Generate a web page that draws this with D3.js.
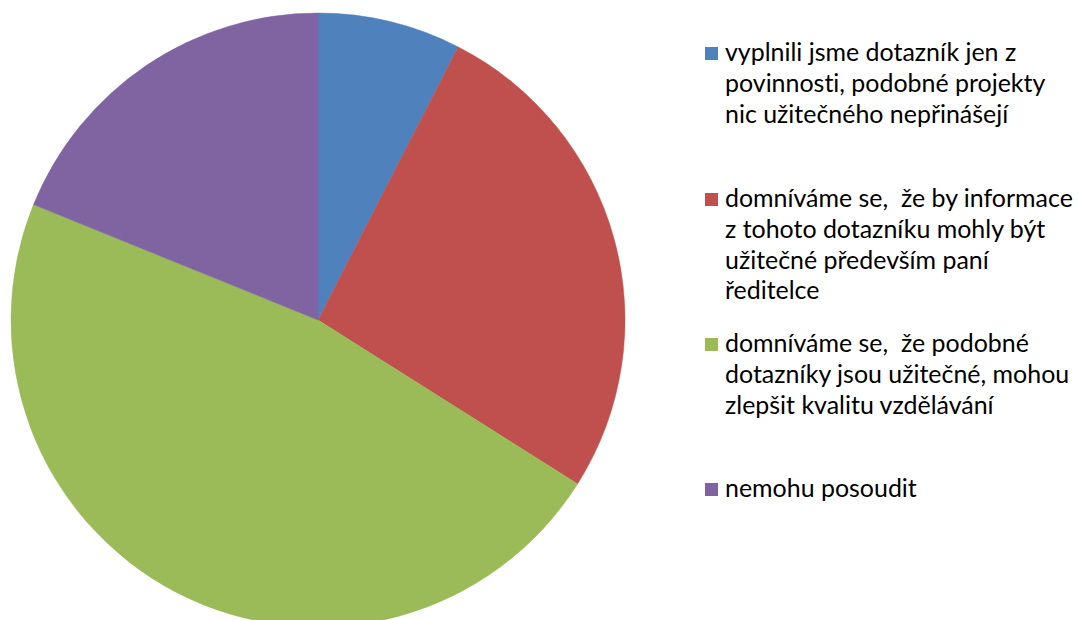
<!DOCTYPE html>
<html>
<head>
<meta charset="utf-8">
<script src="https://cdn.jsdelivr.net/npm/d3@7"></script>
<style>
  html, body { margin: 0; padding: 0; background: #fff; }
  svg { display: block; }
  text { white-space: pre; font-variant-ligatures: none; font-feature-settings: "liga" 0, "clig" 0; }
</style>
</head>
<body>
<svg id="chart" width="1078" height="620"></svg>
<script>
// ---- data ----
const categories = [
  "vyplnili jsme dotazník jen z povinnosti, podobné projekty nic užitečného nepřinášejí",
  "domníváme se,  že by informace z tohoto dotazníku mohly být užitečné především paní ředitelce",
  "domníváme se,  že podobné dotazníky jsou užitečné, mohou zlepšit kvalitu vzdělávání",
  "nemohu posoudit"
];
const values = [4, 14, 25, 10];
const legendLines = [
  ["vyplnili jsme dotazník jen z", "povinnosti, podobné projekty", "nic užitečného nepřinášejí"],
  ["domníváme se,  že by informace", "z tohoto dotazníku mohly být", "užitečné především paní", "ředitelce"],
  ["domníváme se,  že podobné", "dotazníky jsou užitečné, mohou", "zlepšit kvalitu vzdělávání"],
  ["nemohu posoudit"]
];
const colors = ["#4F81BD", "#C0504D", "#9BBB59", "#8064A2"];

// ---- layout ----
const svg = d3.select("#chart");
const cx = 318, cy = 320, R = 307;

const color = d3.scaleOrdinal().domain(categories).range(colors);
const pie = d3.pie().sort(null).value(d => d.v);
const arc = d3.arc().innerRadius(0).outerRadius(R);
const data = categories.map((c, i) => ({ c, v: values[i] }));

svg.append("g")
  .attr("transform", `translate(${cx},${cy})`)
  .selectAll("path")
  .data(pie(data))
  .join("path")
  .attr("d", arc)
  .attr("fill", d => color(d.data.c))
  .attr("stroke", d => color(d.data.c))
  .attr("stroke-width", 0.5);

// legend
const fontFamily = "Lato, 'Open Sans', 'DejaVu Sans', sans-serif";
const targetWidth = 348;
const probe = svg.append("text").attr("font-family", fontFamily).attr("font-size", 20)
  .text(legendLines[1][0]);
const w20 = probe.node().getComputedTextLength();
probe.remove();
const fontSize = Math.min(26, 20 * targetWidth / w20);

const firstBaselines = [61, 207, 352, 497];
const lineH = 30.8;
const textX = 725, boxX = 705, box = 13;

const lg = svg.append("g").attr("class", "legend");
legendLines.forEach((lines, i) => {
  const g = lg.append("g");
  g.append("rect")
    .attr("x", boxX).attr("y", firstBaselines[i] - 14)
    .attr("width", box).attr("height", box)
    .attr("fill", colors[i]);
  const t = g.append("text")
    .attr("font-family", fontFamily)
    .attr("font-size", fontSize)
    .attr("fill", "#000");
  lines.forEach((ln, j) => {
    t.append("tspan").attr("x", textX).attr("y", firstBaselines[i] + j * lineH).text(ln);
  });
});
</script>
</body>
</html>
